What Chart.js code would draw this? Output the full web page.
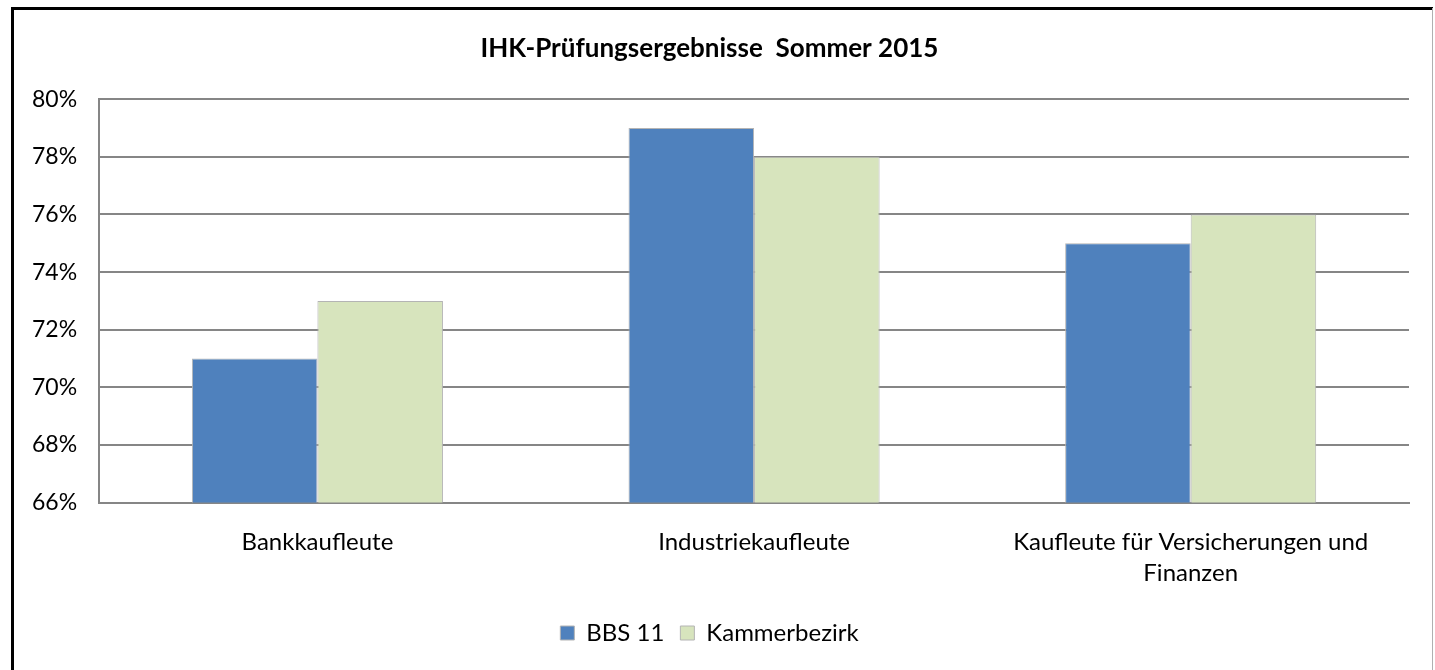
<!DOCTYPE html>
<html>
<head>
<meta charset="utf-8">
<script src="https://cdn.jsdelivr.net/npm/chart.js@4"></script>
<style>
  body { margin: 0; background: #fff; }
  #wrap { position: absolute; left: 0; top: 0; width: 1435px; height: 670px; }
</style>
</head>
<body>
<div id="wrap"><canvas id="c" width="1435" height="670"></canvas></div>
<script>
const categories = ["Bankkaufleute", "Industriekaufleute", ["Kaufleute für Versicherungen und", "Finanzen"]];
const bbs11 = [71, 79, 75];
const kammerbezirk = [73, 78, 76];
const yMin = 66, yMax = 80, yStep = 2;

// outer frame like the original picture
const frame = {
  id: "frame",
  afterDraw(chart) {
    const ctx = chart.ctx;
    ctx.save();
    ctx.strokeStyle = "#000";
    ctx.lineWidth = 3;
    ctx.beginPath();
    ctx.moveTo(12.5, 700);
    ctx.lineTo(12.5, 8.5);
    ctx.lineTo(1433, 8.5);
    ctx.stroke();
    ctx.strokeStyle = "#b0b0b0";
    ctx.lineWidth = 1;
    ctx.beginPath();
    ctx.moveTo(1432.5, 8);
    ctx.lineTo(1432.5, 670);
    ctx.stroke();
    ctx.restore();
  }
};

Chart.defaults.font.family = "Lato, 'Open Sans', sans-serif";
Chart.defaults.color = "#000";

new Chart(document.getElementById("c"), {
  type: "bar",
  data: {
    labels: categories,
    datasets: [
      {
        label: "BBS 11",
        data: bbs11,
        backgroundColor: "#4F81BD",
        borderColor: "#b4b4b4",
        borderWidth: 1,
      },
      {
        label: "Kammerbezirk",
        data: kammerbezirk,
        backgroundColor: "#D7E4BD",
        borderColor: "#b4b4b4",
        borderWidth: 1,
      },
    ],
  },
  options: {
    responsive: false,
    animation: false,
    layout: { padding: { left: 10, right: 26, top: 20, bottom: 15 } },
    datasets: {
      bar: { categoryPercentage: 0.575, barPercentage: 1 },
    },
    scales: {
      x: {
        grid: { display: false },
        border: { color: "#868686", width: 2 },
        ticks: { font: { size: 24, lineHeight: 1.3 }, padding: 16, maxRotation: 0 },
      },
      y: {
        min: yMin,
        max: yMax,
        ticks: {
          stepSize: yStep,
          font: { size: 23 },
          padding: 22,
          callback: (v) => v + "%",
        },
        grid: { color: "#868686", lineWidth: 2, drawTicks: false },
        border: { color: "#868686", width: 2 },
      },
    },
    plugins: {
      title: {
        display: true,
        text: "IHK-Prüfungsergebnisse  Sommer 2015",
        font: { size: 26, weight: "bold" },
        padding: { top: 13, bottom: 35 },
      },
      legend: {
        position: "bottom",
        labels: {
          boxWidth: 14,
          boxHeight: 14,
          padding: 16,
          font: { size: 24 },
        },
      },
      tooltip: { enabled: false },
    },
  },
  plugins: [frame],
});
</script>
</body>
</html>
